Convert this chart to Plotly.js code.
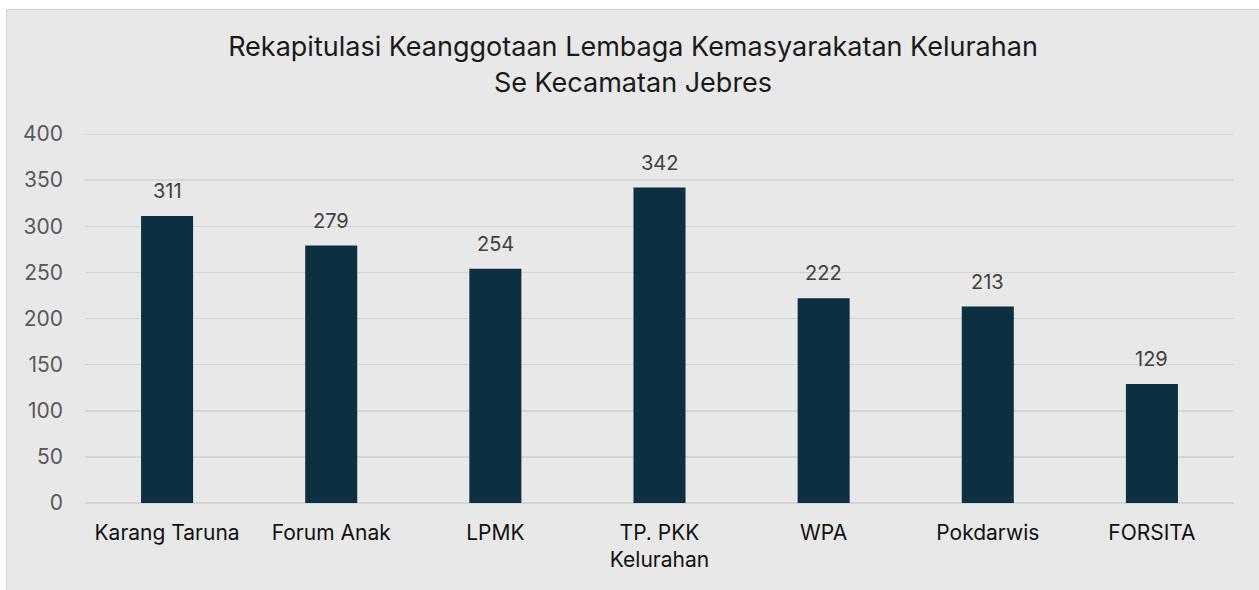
<!DOCTYPE html>
<html>
<head>
<meta charset="utf-8">
<script src="https://cdn.plot.ly/plotly-3.0.1.min.js"></script>
<style>
  html, body { margin: 0; padding: 0; background: #ffffff; width: 1259px; height: 590px; overflow: hidden; }
  #box { position: absolute; left: 6px; top: 9px; width: 1252px; height: 580px;
         background: #e8e8e8; border-left: 1px solid #d2d2d2; border-top: 1px solid #d2d2d2; }
  #chart { width: 1252px; height: 580px; }
</style>
</head>
<body>
<div id="box"><div id="chart"></div></div>
<script>
const categories = ["Karang Taruna", "Forum Anak", "LPMK", "TP. PKK<br>Kelurahan", "WPA", "Pokdarwis", "FORSITA"];
const values = [311, 279, 254, 342, 222, 213, 129];
const yTicks = [0, 50, 100, 150, 200, 250, 300, 350, 400];
const titleText = "Rekapitulasi Keanggotaan Lembaga Kemasyarakatan Kelurahan<br>Se Kecamatan Jebres";

const fontFam = "Inter, 'Open Sans', 'Noto Sans', sans-serif";

const trace = {
  type: "bar",
  x: categories,
  y: values,
  marker: { color: "#0c2f42" },
  width: 0.317,
  hoverinfo: "none"
};

const annotations = categories.map((c, i) => ({
  x: c, y: values[i], xref: "x", yref: "y",
  text: String(values[i]), showarrow: false,
  yanchor: "bottom", yshift: 11,
  font: { family: fontFam, size: 20, color: "#404040" }
}));

const layout = {
  width: 1252, height: 580,
  paper_bgcolor: "rgba(0,0,0,0)",
  plot_bgcolor: "rgba(0,0,0,0)",
  margin: { l: 78, r: 25, t: 124, b: 87 },
  title: {
    text: titleText,
    x: 0.5, xanchor: "center",
    y: 0.92, yanchor: "top",
    font: { family: fontFam, size: 27, color: "#1a1a1a" }
  },
  showlegend: false,
  bargap: 0.683,
  xaxis: {
    type: "category",
    showgrid: false, showline: false, zeroline: false,
    ticks: "", ticklabelstandoff: 15,
    tickfont: { family: fontFam, size: 21, color: "#111111" },
    automargin: false
  },
  yaxis: {
    range: [0, 400],
    tickvals: yTicks,
    ticktext: yTicks.map(String),
    showgrid: true, gridcolor: "#d5d5d5", gridwidth: 1.5,
    zeroline: true, zerolinecolor: "#d5d5d5", zerolinewidth: 1.5,
    showline: false, ticks: "", ticklabelstandoff: 21,
    tickfont: { family: fontFam, size: 21, color: "#595959" },
    automargin: false
  },
  shapes: [{
    type: "line", xref: "paper", yref: "y",
    x0: 0, x1: 1, y0: yTicks[yTicks.length - 1], y1: yTicks[yTicks.length - 1],
    line: { color: "#d5d5d5", width: 1.5 }, layer: "below"
  }],
  annotations: annotations
};

Plotly.newPlot("chart", [trace], layout, { displayModeBar: false, staticPlot: true });
</script>
</body>
</html>
